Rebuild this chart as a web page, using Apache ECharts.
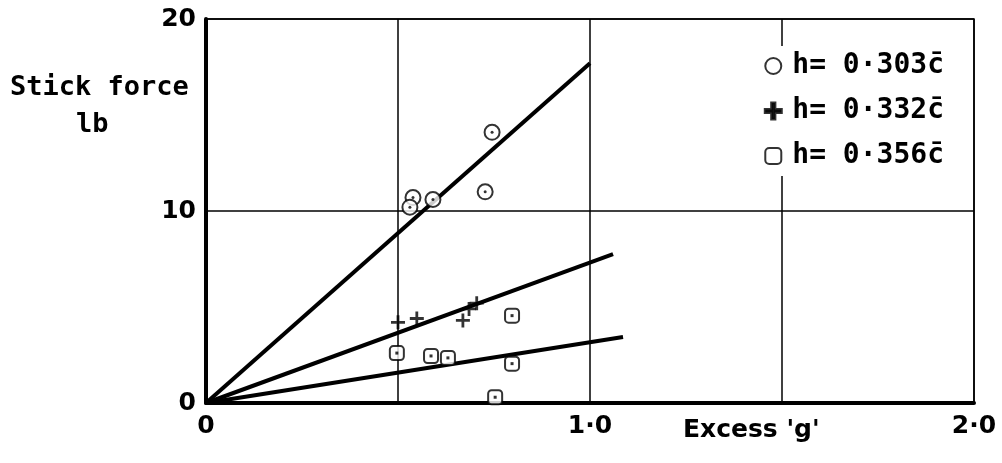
<!DOCTYPE html>
<html>
<head>
<meta charset="utf-8">
<script src="https://cdn.jsdelivr.net/npm/echarts@6/dist/echarts.min.js"></script>
<style>html,body{margin:0;padding:0;background:#fff}#c{width:1002px;height:463px}</style>
</head>
<body>
<div id="c"></div>
<script>
// Data
var seriesNames = ['h= 0·303c̄', 'h= 0·332c̄', 'h= 0·356c̄'];
var circlePts = [[0.745, 14.1], [0.727, 11.0], [0.539, 10.7], [0.531, 10.2], [0.591, 10.6]];
var plusPts = [[0.50, 4.2], [0.549, 4.4], [0.669, 4.3], [0.685, 4.9], [0.705, 5.2]];
var squarePts = [[0.497, 2.6], [0.586, 2.45], [0.630, 2.35], [0.797, 4.55], [0.797, 2.05], [0.753, 0.3]];
var lineCircle = [[0, 0], [1.0, 17.7]];
var linePlus = [[0, 0], [1.06, 7.76]];
var lineSquare = [[0, 0], [1.086, 3.44]];
var xTickLabels = {'0': '0', '1': '1·0', '2': '2·0'};
var yTickLabels = {'0': '0', '10': '10', '20': '20'};

var FONT = 'DejaVu Sans';
var MONO = 'DejaVu Sans Mono';
var plusPath = 'path://M4,0 H6 V4 H10 V6 H6 V10 H4 V6 H0 V4 H4 Z';

var chart = echarts.init(document.getElementById('c'));
chart.setOption({
  animation: false,
  backgroundColor: '#fff',
  grid: {left: 206, right: 28, top: 19, bottom: 60, show: true, borderColor: '#000', borderWidth: 1.5},
  xAxis: {
    type: 'value', min: 0, max: 2, interval: 0.5,
    axisLine: {show: true, onZero: false, lineStyle: {color: '#000', width: 4}},
    axisTick: {show: false},
    splitLine: {show: true, lineStyle: {color: '#000', width: 1.5}},
    axisLabel: {
      color: '#000', fontFamily: FONT, fontWeight: 'bold', fontSize: 25, margin: 11,
      formatter: function (v) { var k = String(Math.round(v * 100) / 100); return xTickLabels[k] !== undefined ? xTickLabels[k] : ''; }
    }
  },
  yAxis: {
    type: 'value', min: 0, max: 20, interval: 10,
    axisLine: {show: true, onZero: false, lineStyle: {color: '#000', width: 4}},
    axisTick: {show: false},
    splitLine: {show: true, lineStyle: {color: '#000', width: 1.5}},
    axisLabel: {
      color: '#000', fontFamily: FONT, fontWeight: 'bold', fontSize: 25, margin: 10,
      formatter: function (v) { return yTickLabels[String(v)] || ''; }
    }
  },
  legend: {
    orient: 'vertical', right: 44, top: 46,
    data: seriesNames,
    backgroundColor: '#fff',
    padding: [6, 14, 6, 14],
    itemGap: 17, itemWidth: 16, itemHeight: 16,
    itemStyle: {borderColor: '#000', borderWidth: 3},
    textStyle: {color: '#000', fontFamily: MONO, fontWeight: 'bold', fontSize: 28, padding: [0, 0, 0, 6]}
  },
  graphic: [
    {type: 'text', left: 10, top: 74, style: {text: 'Stick force', font: 'bold 27px "DejaVu Sans Mono"', fill: '#000'}},
    {type: 'text', left: 76, top: 111, style: {text: 'lb', font: 'bold 27px "DejaVu Sans Mono"', fill: '#000'}},
    {type: 'text', left: 683, top: 418, style: {text: "Excess 'g'", font: 'bold 25px "DejaVu Sans"', fill: '#000'}}
  ],
  series: [
    {type: 'line', data: lineCircle, symbol: 'none', lineStyle: {color: '#000', width: 4}, silent: true, z: 3},
    {type: 'line', data: linePlus, symbol: 'none', lineStyle: {color: '#000', width: 4}, silent: true, z: 3},
    {type: 'line', data: lineSquare, symbol: 'none', lineStyle: {color: '#000', width: 4}, silent: true, z: 3},
    {name: seriesNames[0], type: 'scatter', data: circlePts, symbol: 'emptyCircle', symbolSize: 15,
     itemStyle: {color: '#000', borderColor: '#000', borderWidth: 3}, z: 5},
    {name: seriesNames[1], type: 'scatter', data: plusPts, symbol: plusPath, symbolSize: 14,
     itemStyle: {color: '#000', borderWidth: 0}, z: 5},
    {name: seriesNames[2], type: 'scatter', data: squarePts, symbol: 'emptyRoundRect', symbolSize: 14,
     itemStyle: {color: '#000', borderColor: '#000', borderWidth: 3}, z: 5},
    {type: 'scatter', data: circlePts, symbol: 'circle', symbolSize: 3, itemStyle: {color: '#000'}, z: 6, silent: true},
    {type: 'scatter', data: squarePts, symbol: 'rect', symbolSize: 3, itemStyle: {color: '#000'}, z: 6, silent: true}
  ]
});
</script>
</body>
</html>
